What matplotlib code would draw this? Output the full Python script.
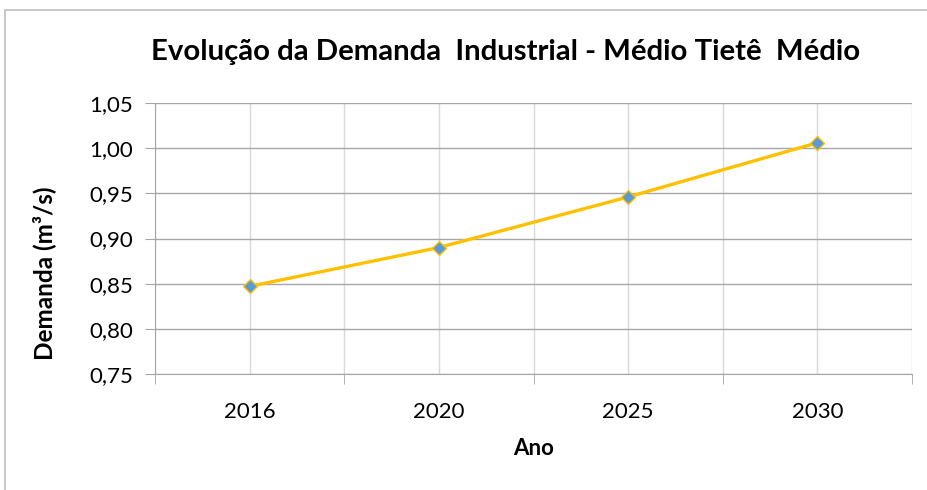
import matplotlib
matplotlib.use('Agg')
import matplotlib.pyplot as plt
from matplotlib.patches import Rectangle
from matplotlib.ticker import FuncFormatter

anos = ['2016', '2020', '2025', '2030']
demanda = [0.847, 0.890, 0.946, 1.006]
y_ticks = [0.75, 0.80, 0.85, 0.90, 0.95, 1.00, 1.05]

plt.rcParams['font.family'] = ['Lato', 'DejaVu Sans']

fig = plt.figure(figsize=(9.28, 4.9), dpi=100)
# chart border: only top and left edges fall inside the image
fig.patches.append(Rectangle((5 / 928, -0.2), 1.5, 480 / 490 + 0.2,
                             transform=fig.transFigure, fill=False,
                             edgecolor='#bfbfbf', linewidth=1.2))
ax = fig.add_axes([155 / 928, 116 / 490, 757 / 928, 271 / 490])

x = list(range(len(anos)))
ax.plot(x, demanda, color='#FFC000', linewidth=2.4, marker='D',
        markersize=7.5, markerfacecolor='#5B9BD5', markeredgecolor='#FFC000',
        markeredgewidth=1, zorder=3)

ax.set_xlim(-0.5, len(anos) - 0.5)
ax.set_ylim(0.75, 1.05)
ax.set_yticks(y_ticks)
ax.yaxis.set_major_formatter(FuncFormatter(lambda v, p: f'{v:.2f}'.replace('.', ',')))
ax.set_xticks(x)
ax.set_xticklabels(anos)
ax.set_xticks([i - 0.5 for i in range(len(anos) + 1)], minor=True)

ax.grid(axis='y', color='#a6a6a6', linewidth=1)
ax.grid(axis='x', which='major', color='#d9d9d9', linewidth=1)
ax.grid(axis='x', which='minor', color='#d9d9d9', linewidth=1)
ax.set_axisbelow(True)

ax.tick_params(axis='x', which='major', length=0, labelsize=16, pad=20)
ax.tick_params(axis='x', which='minor', length=7, color='#a6a6a6')
ax.tick_params(axis='y', length=7, color='#a6a6a6', labelsize=16, pad=9)

for s in ['top', 'right']:
    ax.spines[s].set_visible(False)
ax.spines['left'].set_color('#a6a6a6')
ax.spines['bottom'].set_color('#a6a6a6')

ax.set_xlabel('Ano', fontsize=16, fontweight='bold', labelpad=12)
ax.set_ylabel('Demanda (m³/s)', fontsize=17.5, fontweight='bold')
ax.yaxis.set_label_coords(-0.131, 0.37)
fig.text(0.545, 0.893, 'Evolução da Demanda  Industrial - Médio Tietê  Médio',
         ha='center', va='center', fontsize=21.2, fontweight='bold')

fig.savefig('out.png', dpi=100)
